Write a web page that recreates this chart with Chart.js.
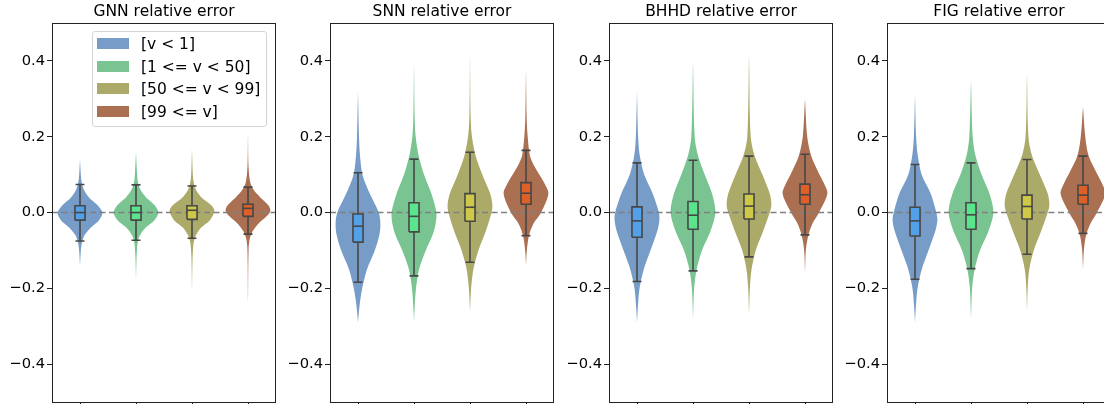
<!DOCTYPE html>
<html>
<head>
<meta charset="utf-8">
<script src="https://cdn.jsdelivr.net/npm/chart.js@4.4.0/dist/chart.umd.min.js"></script>
<style>
    body { margin: 0; width: 1104px; height: 404px; overflow: hidden; background: #fff; position: relative; font-family: "DejaVu Sans", sans-serif; }
    canvas { position: absolute; top: 0; }
    #legend { position: absolute; left: 92px; top: 31px; width: 175px; height: 96px; border: 1px solid #d4d4d4; border-radius: 3px; background: rgba(255,255,255,0.8); box-sizing: border-box; }
    .item { position: absolute; left: 4px; height: 22px; font-size: 15.5px; line-height: 22px; white-space: nowrap; color: #000; }
    .swatch { display: inline-block; width: 32px; height: 11px; vertical-align: middle; margin-right: 12px; position: relative; top: -1px; }
</style>
</head>
<body>
<canvas id="c0" width="278" height="404"></canvas>
<canvas id="c1" width="278" height="404"></canvas>
<canvas id="c2" width="278" height="404"></canvas>
<canvas id="c3" width="278" height="404"></canvas>
<div id="legend"></div>
<script>
"use strict";

    const groups = ['[v < 1]', '[1 <= v < 50]', '[50 <= v < 99]', '[99 <= v]'];
    const titles = ['GNN relative error', 'SNN relative error', 'BHHD relative error', 'FIG relative error'];
    const yTicks = [-0.4, -0.2, 0, 0.2, 0.4];

    const violinColors = ['#769cc7', '#7ac491', '#abaa69', '#ab7052'];
    const boxColors = ['#52a0e8', '#5ae48c', '#cdc848', '#dc6028'];

    // [lower whisker, q1, median, q3, upper whisker]
    const gnnBoxes = [[-0.075, -0.020, 0.000, 0.018, 0.074], [-0.073, -0.020, 0.000, 0.018, 0.073], [-0.068, -0.018, 0.006, 0.018, 0.070], [-0.057, -0.010, 0.011, 0.022, 0.067]];
    const snnBoxes = [[-0.184, -0.078, -0.036, -0.004, 0.105], [-0.167, -0.051, -0.010, 0.026, 0.141], [-0.131, -0.023, 0.014, 0.050, 0.159], [-0.061, 0.022, 0.051, 0.079, 0.164]];
    const bhhdBoxes = [[-0.182, -0.065, -0.022, 0.015, 0.131], [-0.154, -0.044, -0.007, 0.029, 0.138], [-0.117, -0.017, 0.017, 0.049, 0.149], [-0.059, 0.022, 0.047, 0.075, 0.154]];
    const figBoxes = [[-0.176, -0.062, -0.022, 0.014, 0.127], [-0.148, -0.044, -0.006, 0.026, 0.131], [-0.110, -0.017, 0.016, 0.046, 0.140], [-0.055, 0.022, 0.046, 0.072, 0.149]];

    // violin outlines, bottom to top: [y, half width in category units]
    const gnnViolins = [
        [[-0.14, 0], [-0.10, 0.015], [-0.08, 0.035], [-0.06, 0.08], [-0.04, 0.19], [-0.02, 0.34], [0, 0.40], [0.02, 0.31], [0.04, 0.16], [0.06, 0.07], [0.08, 0.03], [0.10, 0.015], [0.14, 0]],
        [[-0.18, 0], [-0.12, 0.01], [-0.08, 0.03], [-0.06, 0.07], [-0.04, 0.17], [-0.02, 0.33], [0, 0.40], [0.02, 0.33], [0.04, 0.18], [0.06, 0.08], [0.08, 0.035], [0.10, 0.02], [0.16, 0]],
        [[-0.21, 0], [-0.12, 0.01], [-0.08, 0.03], [-0.06, 0.07], [-0.04, 0.16], [-0.02, 0.32], [0.005, 0.40], [0.02, 0.34], [0.04, 0.17], [0.06, 0.07], [0.08, 0.03], [0.10, 0.015], [0.17, 0]],
        [[-0.24, 0], [-0.10, 0.01], [-0.07, 0.03], [-0.05, 0.08], [-0.03, 0.18], [-0.01, 0.33], [0.005, 0.40], [0.02, 0.36], [0.04, 0.22], [0.06, 0.10], [0.08, 0.04], [0.12, 0.01], [0.21, 0]]
    ];
    const snnViolins = [
        [[-0.29, 0], [-0.25, 0.024], [-0.20, 0.075], [-0.15, 0.16], [-0.10, 0.30], [-0.06, 0.38], [-0.03, 0.40], [0, 0.37], [0.05, 0.21], [0.10, 0.08], [0.15, 0.036], [0.20, 0.018], [0.32, 0]],
        [[-0.29, 0], [-0.25, 0.012], [-0.20, 0.036], [-0.15, 0.09], [-0.10, 0.21], [-0.06, 0.33], [-0.03, 0.385], [0, 0.40], [0.05, 0.31], [0.10, 0.18], [0.15, 0.083], [0.20, 0.03], [0.25, 0.012], [0.40, 0]],
        [[-0.26, 0], [-0.20, 0.02], [-0.15, 0.06], [-0.10, 0.15], [-0.05, 0.28], [0, 0.385], [0.02, 0.40], [0.05, 0.36], [0.10, 0.22], [0.15, 0.10], [0.20, 0.035], [0.25, 0.012], [0.42, 0]],
        [[-0.14, 0], [-0.10, 0.015], [-0.06, 0.054], [-0.03, 0.13], [0, 0.27], [0.05, 0.40], [0.08, 0.32], [0.10, 0.24], [0.125, 0.14], [0.15, 0.07], [0.20, 0.03], [0.25, 0.012], [0.38, 0]]
    ];
    const bhhdViolins = [
        [[-0.29, 0], [-0.25, 0.015], [-0.20, 0.045], [-0.15, 0.12], [-0.10, 0.24], [-0.05, 0.36], [-0.02, 0.40], [0, 0.39], [0.05, 0.28], [0.10, 0.13], [0.15, 0.05], [0.20, 0.02], [0.32, 0]],
        [[-0.28, 0], [-0.20, 0.02], [-0.15, 0.065], [-0.10, 0.16], [-0.05, 0.31], [0, 0.40], [0.05, 0.34], [0.10, 0.21], [0.15, 0.09], [0.20, 0.03], [0.40, 0]],
        [[-0.27, 0], [-0.20, 0.015], [-0.15, 0.045], [-0.10, 0.12], [-0.05, 0.25], [0, 0.37], [0.02, 0.40], [0.05, 0.37], [0.10, 0.24], [0.15, 0.10], [0.20, 0.03], [0.42, 0]],
        [[-0.16, 0], [-0.10, 0.015], [-0.06, 0.06], [-0.03, 0.13], [0, 0.25], [0.05, 0.40], [0.08, 0.33], [0.10, 0.26], [0.15, 0.11], [0.20, 0.04], [0.30, 0]]
    ];
    const figViolins = [
        [[-0.29, 0], [-0.25, 0.015], [-0.20, 0.045], [-0.15, 0.12], [-0.10, 0.24], [-0.05, 0.36], [-0.02, 0.40], [0, 0.38], [0.05, 0.28], [0.10, 0.12], [0.15, 0.05], [0.20, 0.02], [0.31, 0]],
        [[-0.28, 0], [-0.20, 0.02], [-0.15, 0.065], [-0.10, 0.16], [-0.05, 0.31], [0, 0.40], [0.05, 0.33], [0.10, 0.19], [0.15, 0.08], [0.20, 0.03], [0.35, 0]],
        [[-0.26, 0], [-0.20, 0.012], [-0.15, 0.04], [-0.10, 0.12], [-0.05, 0.25], [0, 0.37], [0.02, 0.40], [0.05, 0.37], [0.10, 0.23], [0.15, 0.09], [0.20, 0.025], [0.37, 0]],
        [[-0.15, 0], [-0.10, 0.015], [-0.06, 0.055], [-0.03, 0.13], [0, 0.25], [0.05, 0.40], [0.08, 0.33], [0.10, 0.26], [0.15, 0.10], [0.20, 0.04], [0.28, 0]]
    ];

    const panels = [
        { boxes: gnnBoxes, violins: gnnViolins },
        { boxes: snnBoxes, violins: snnViolins },
        { boxes: bhhdBoxes, violins: bhhdViolins },
        { boxes: figBoxes, violins: figViolins }
    ];
    const panelLeft = [52, 330, 609, 887]; // chart area left edge of each panel
    const axisWidth = 52;
    const boxHalf = 0.09;
    const capHalf = 0.08;
    const edgeColor = '#474747';

    Chart.defaults.font.family = "'DejaVu Sans', sans-serif";
    Chart.defaults.font.size = 14.7;
    Chart.defaults.color = '#000';

    // frame round the plot area, like the matplotlib spines
    const framePlugin = {
        id: 'frame',
        afterDatasetsDraw(chart) {
            const { ctx, chartArea: a } = chart;
            ctx.save();
            ctx.strokeStyle = '#222';
            ctx.lineWidth = 1;
            ctx.strokeRect(Math.round(a.left) + 0.5, Math.round(a.top) + 0.5, Math.round(a.right - a.left) - 1, Math.round(a.bottom - a.top));
            ctx.restore();
        }
    };

    function tickLabel(v) {
        if (Math.abs(v) < 1e-9) return '0.0';
        return (v < 0 ? '\u2212' : '') + Math.abs(v).toFixed(1);
    }

    function buildDatasets(panel) {
        const sets = [];
        panel.violins.forEach((outline, g) => {
            const right = outline.map(([y, w]) => ({ x: g + w, y }));
            const left = outline.slice().reverse().map(([y, w]) => ({ x: g - w, y }));
            sets.push({
                data: right.concat(left),
                fill: 'shape',
                backgroundColor: violinColors[g],
                borderWidth: 0,
                pointRadius: 0,
                tension: 0.3,
                order: 4
            });
        });
        panel.boxes.forEach(([lo, q1, med, q3, hi], g) => {
            sets.push({
                data: [
                    { x: g - capHalf, y: hi }, { x: g + capHalf, y: hi }, { x: g, y: null },
                    { x: g, y: hi }, { x: g, y: lo }, { x: g, y: null },
                    { x: g - capHalf, y: lo }, { x: g + capHalf, y: lo }
                ],
                borderColor: edgeColor,
                borderWidth: 1.6,
                pointRadius: 0,
                order: 2
            });
            sets.push({
                data: [
                    { x: g - boxHalf, y: q1 }, { x: g + boxHalf, y: q1 },
                    { x: g + boxHalf, y: q3 }, { x: g - boxHalf, y: q3 }, { x: g - boxHalf, y: q1 }
                ],
                fill: 'shape',
                backgroundColor: boxColors[g],
                borderColor: edgeColor,
                borderWidth: 1.6,
                pointRadius: 0,
                order: 1
            });
            sets.push({
                data: [{ x: g - boxHalf, y: med }, { x: g + boxHalf, y: med }],
                borderColor: edgeColor,
                borderWidth: 1.6,
                pointRadius: 0,
                order: 0
            });
        });
        // dashed zero reference line
        sets.push({
            data: [{ x: -0.5, y: 0 }, { x: groups.length - 0.5, y: 0 }],
            borderColor: '#808080',
            borderWidth: 1.5,
            borderDash: [6, 3.5],
            pointRadius: 0,
            order: 3
        });
        return sets;
    }

    panels.forEach((panel, idx) => {
        const canvas = document.getElementById('c' + idx);
        canvas.style.left = (panelLeft[idx] - axisWidth) + 'px';
        new Chart(canvas.getContext('2d'), {
            type: 'line',
            data: { datasets: buildDatasets(panel) },
            options: {
                responsive: false,
                animation: false,
                devicePixelRatio: 1,
                layout: { padding: { right: 2 } },
                plugins: {
                    legend: { display: false },
                    tooltip: { enabled: false },
                    title: {
                        display: true,
                        text: titles[idx],
                        fullSize: false,
                        color: '#000',
                        font: { family: "'DejaVu Sans', sans-serif", size: 15.5, weight: 'normal' },
                        padding: { top: 2.5, bottom: 2 }
                    }
                },
                scales: {
                    x: {
                        type: 'linear',
                        min: -0.5,
                        max: groups.length - 0.5,
                        afterBuildTicks: (s) => { s.ticks = groups.map((_, i) => ({ value: i })); },
                        afterFit: (s) => { s.height = 2; s.paddingLeft = 0; s.paddingRight = 0; },
                        ticks: { display: false },
                        grid: { drawOnChartArea: false, tickLength: 5, color: '#222' },
                        border: { display: false }
                    },
                    y: {
                        min: -0.5,
                        max: 0.5,
                        afterBuildTicks: (s) => { s.ticks = yTicks.map(v => ({ value: v })); },
                        afterFit: (s) => { s.width = axisWidth; s.paddingTop = 0; s.paddingBottom = 0; },
                        ticks: {
                            color: '#000',
                            padding: 2,
                            font: { family: "'DejaVu Sans', sans-serif", size: 14.7 },
                            callback: (v) => tickLabel(v)
                        },
                        grid: { drawOnChartArea: false, tickLength: 5, color: '#222' },
                        border: { display: false }
                    }
                }
            },
            plugins: [framePlugin]
        });
    });

    // legend only on the first panel
    const legend = document.getElementById('legend');
    groups.forEach((name, g) => {
        const item = document.createElement('div');
        item.className = 'item';
        item.style.top = (1 + g * 22.6) + 'px';
        const swatch = document.createElement('span');
        swatch.className = 'swatch';
        swatch.style.background = violinColors[g];
        item.appendChild(swatch);
        item.appendChild(document.createTextNode(name));
        legend.appendChild(item);
    });
</script>
</body>
</html>
